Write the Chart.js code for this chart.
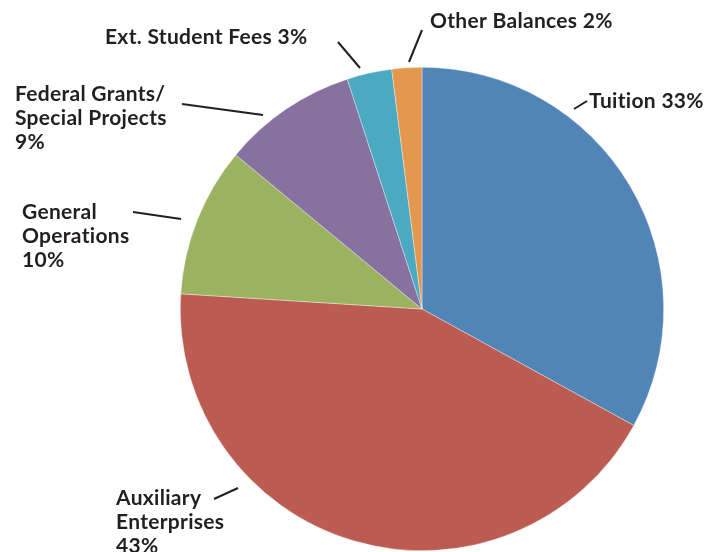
<!DOCTYPE html>
<html>
<head>
<meta charset="utf-8">
<script src="https://cdn.jsdelivr.net/npm/chart.js@4"></script>
<style>
  html, body { margin: 0; padding: 0; background: #fff; }
  #wrap { width: 714px; height: 552px; position: relative; }
</style>
</head>
<body>
<div id="wrap"><canvas id="chart"></canvas></div>
<script>
// data
var categories = ["Tuition", "Auxiliary Enterprises", "General Operations", "Federal Grants/ Special Projects", "Ext. Student Fees", "Other Balances"];
var shares = [33, 43, 10, 9, 3, 2];
var sliceColors = ["#5185b8", "#bc5b52", "#9bb360", "#8671a0", "#4ba9c1", "#e4984f"];

// label lines and leader lines (offsets from pie centre, px)
var labelLayout = [
  { lines: ["Tuition 33%"], x: 589, y: 108, l: [152, -200, 165, -208] },
  { lines: ["Auxiliary", "Enterprises", "43%"], x: 116, y: 505, l: [-184, 179, -208, 190] },
  { lines: ["General", "Operations", "10%"], x: 22, y: 219, l: [-241, -90, -289, -97] },
  { lines: ["Federal Grants/", "Special Projects", "9%"], x: 15, y: 101, l: [-159, -194, -240, -205] },
  { lines: ["Ext. Student Fees 3%"], x: 105, y: 44, l: [-62, -241, -84, -267] },
  { lines: ["Other Balances 2%"], x: 430, y: 28, l: [-13, -247, 0, -279] }
];

var FONT = "bold 21px Lato";

var ctx = document.getElementById("chart");
var myChart = new Chart(ctx, {
  type: "pie",
  data: {
    labels: categories,
    datasets: [
      {
        data: shares,
        backgroundColor: sliceColors,
        borderWidth: 0.6,
        borderColor: "rgba(255,255,255,0.6)",
      },
    ],
  },
  options: {
    responsive: true,
    maintainAspectRatio: false,
    animation: false,
    events: [],
    layout: {
      padding: { left: 180, right: 50, top: 67, bottom: 1 },
    },
    plugins: {
      legend: { display: false },
      tooltip: { enabled: false },
    },
  },
  plugins: [
    {
      id: "leaderLabels",
      afterDraw: (chart) => {
        const c = chart.ctx;
        const arcs = chart.getDatasetMeta(0).data;
        const cx = arcs[0].x;
        const cy = arcs[0].y;
        c.save();
        c.fillStyle = "#231f20";
        c.strokeStyle = "#231f20";
        c.lineWidth = 2;
        c.font = FONT;
        c.letterSpacing = "0.3px";
        c.textAlign = "left";
        c.textBaseline = "alphabetic";
        labelLayout.forEach(function (lab) {
          c.beginPath();
          c.moveTo(cx + lab.l[0], cy + lab.l[1]);
          c.lineTo(cx + lab.l[2], cy + lab.l[3]);
          c.stroke();
          lab.lines.forEach(function (t, i) {
            c.fillText(t, lab.x, lab.y + i * 24);
          });
        });
        c.restore();
      },
    },
  ],
});
</script>
</body>
</html>
